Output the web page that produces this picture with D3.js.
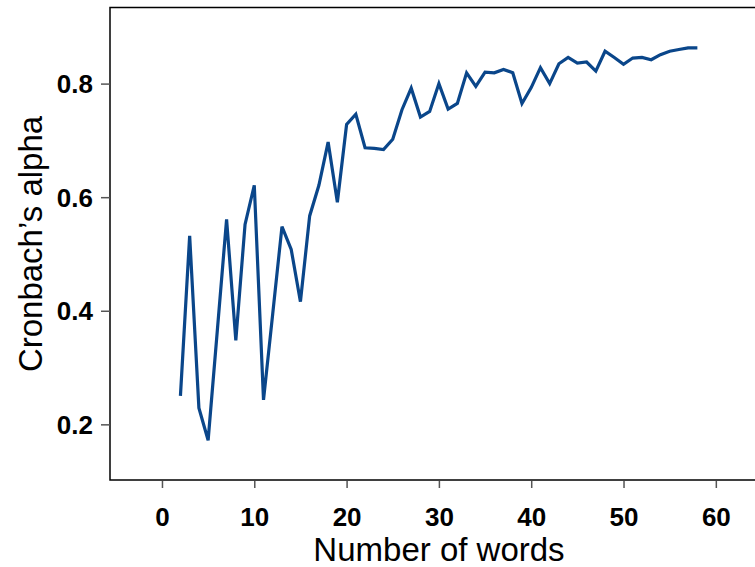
<!DOCTYPE html>
<html>
<head>
    <title>Cronbach's alpha by number of words</title>
    <script src="https://d3js.org/d3.v7.min.js"></script>
    <style>
        body { margin: 0; background: #fff; }
        text { font-family: "Liberation Sans", Arial, sans-serif; }
        .tick_label { font-size: 26px; font-weight: bold; fill: #000; }
        .axis_title { font-size: 33px; fill: #000; }
    </style>
</head>
<body>
    <div id="svg_container"></div>
    <script>
        // chart data
        const words = [2, 3, 4, 5, 6, 7, 8, 9, 10, 11, 12, 13, 14, 15, 16, 17, 18, 19, 20,
            21, 22, 23, 24, 25, 26, 27, 28, 29, 30, 31, 32, 33, 34, 35, 36, 37, 38, 39, 40,
            41, 42, 43, 44, 45, 46, 47, 48, 49, 50, 51, 52, 53, 54, 55, 56, 57, 58];
        const alpha = [0.250, 0.532, 0.229, 0.172, 0.366, 0.561, 0.348, 0.552, 0.621, 0.243,
            0.395, 0.548, 0.508, 0.416, 0.567, 0.621, 0.697, 0.591, 0.728, 0.746,
            0.687, 0.686, 0.684, 0.702, 0.754, 0.792, 0.741, 0.751, 0.800, 0.755,
            0.765, 0.819, 0.795, 0.820, 0.819, 0.825, 0.819, 0.765, 0.793, 0.828,
            0.800, 0.835, 0.846, 0.836, 0.838, 0.822, 0.857, 0.846, 0.834, 0.845,
            0.846, 0.842, 0.851, 0.857, 0.860, 0.863, 0.863];
        const x_ticks = [0, 10, 20, 30, 40, 50, 60];
        const y_ticks = [0.2, 0.4, 0.6, 0.8];

        const width = 755;
        const height = 567;

        const svg = d3.select("#svg_container")
            .append("svg")
            .attr("width", width)
            .attr("height", height);

        // plot region (right edge of the box falls outside the picture)
        const x = d3.scaleLinear().domain([-5.63, 65.5]).range([110, 766.6]);
        const y = d3.scaleLinear().domain([0.102, 0.934]).range([480, 7.5]);

        // frame
        svg.append("rect")
            .attr("x", x.range()[0])
            .attr("y", y.range()[1])
            .attr("width", x.range()[1] - x.range()[0])
            .attr("height", y.range()[0] - y.range()[1])
            .attr("fill", "none")
            .attr("stroke", "#000")
            .attr("stroke-width", 1.5);

        // x axis
        const x_axis = svg.append("g")
            .attr("transform", `translate(0, ${y.range()[0] + 1})`)
            .call(d3.axisBottom(x).tickValues(x_ticks).tickSize(7).tickPadding(0).tickFormat(d3.format("d")));
        x_axis.select(".domain").remove();
        x_axis.selectAll(".tick line").attr("stroke", "#555").attr("stroke-width", 1.5);
        x_axis.selectAll(".tick text")
            .attr("class", "tick_label")
            .attr("y", 45)
            .attr("dy", null)
            .attr("font-family", null)
            .attr("font-size", null);

        // y axis
        const y_axis = svg.append("g")
            .attr("transform", `translate(${x.range()[0]}, 0)`)
            .call(d3.axisLeft(y).tickValues(y_ticks).tickSize(9).tickPadding(0).tickFormat(d3.format(".1f")));
        y_axis.select(".domain").remove();
        y_axis.selectAll(".tick line").attr("stroke", "#555").attr("stroke-width", 1.5);
        y_axis.selectAll(".tick text")
            .attr("class", "tick_label")
            .attr("x", -17)
            .attr("dy", "0.35em")
            .attr("font-family", null)
            .attr("font-size", null);

        // the line
        const line = d3.line()
            .x((d, i) => x(words[i]))
            .y(d => y(d));

        svg.append("path")
            .datum(alpha)
            .attr("d", line)
            .attr("fill", "none")
            .attr("stroke", "#0a468a")
            .attr("stroke-width", 3.2)
            .attr("stroke-linejoin", "miter");

        // axis titles
        svg.append("text")
            .attr("class", "axis_title")
            .attr("text-anchor", "middle")
            .attr("x", 439)
            .attr("y", 561)
            .text("Number of words");

        svg.append("text")
            .attr("class", "axis_title")
            .attr("text-anchor", "middle")
            .attr("transform", "translate(42, 244) rotate(-90)")
            .text("Cronbach\u2019s alpha");
    </script>
</body>
</html>
